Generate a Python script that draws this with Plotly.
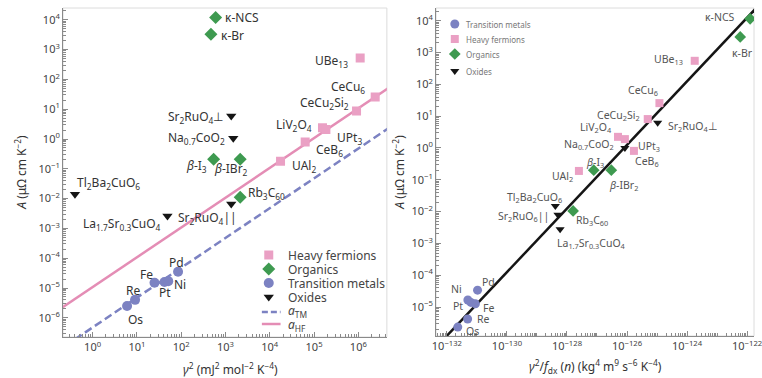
import math
import plotly.graph_objects as go

# ---------------- Left panel: A vs gamma^2 ----------------
hf_names = ["UBe<sub>13</sub>", "CeCu<sub>6</sub>", "CeCu<sub>2</sub>Si<sub>2</sub>",
            "LiV<sub>2</sub>O<sub>4</sub>", "UPt<sub>3</sub>", "CeB<sub>6</sub>", "UAl<sub>2</sub>"]
hf_g2 = [1.1e6, 2.4e6, 9.1e5, 1.55e5, 1.85e5, 6.3e4, 1.75e4]
hf_A = [525, 25.7, 8.7, 2.4, 2.1, 0.8, 0.18]

org_names = ["κ-NCS", "κ-Br", "<i>β</i>-I<sub>3</sub>", "<i>β</i>-IBr<sub>2</sub>", "Rb<sub>3</sub>C<sub>60</sub>"]
org_g2 = [600, 470, 540, 2150, 2150]
org_A = [1.2e4, 3300, 0.21, 0.21, 0.011]

tm_names = ["Os", "Re", "Fe", "Pt", "Ni", "Pd"]
tm_g2 = [6.0, 9.1, 25, 42, 51, 85]
tm_A = [2.5e-6, 4.0e-6, 1.5e-5, 1.6e-5, 1.7e-5, 3.5e-5]

ox_names = ["Sr<sub>2</sub>RuO<sub>4</sub>⊥", "Na<sub>0.7</sub>CoO<sub>2</sub>", "Tl<sub>2</sub>Ba<sub>2</sub>CuO<sub>6</sub>",
            "La<sub>1.7</sub>Sr<sub>0.3</sub>CuO<sub>4</sub>", "Sr<sub>2</sub>RuO<sub>4</sub>||"]
ox_g2 = [1350, 1500, 0.4, 49, 1350]
ox_A = [5.9, 1.07, 0.014, 0.0026, 0.0066]

# Kadowaki-Woods lines (endpoints)
atm_g2 = [0.4, 5e6]
atm_A = [1.9e-7, 2.4]
ahf_g2 = [0.2, 5e6]
ahf_A = [2.14e-6, 53.6]

left_xtick_vals = [1, 10, 1e2, 1e3, 1e4, 1e5, 1e6]
left_xtick_text = ["10<sup>0</sup>", "10<sup>1</sup>", "10<sup>2</sup>", "10<sup>3</sup>",
                   "10<sup>4</sup>", "10<sup>5</sup>", "10<sup>6</sup>"]
left_ytick_vals = [1e-6, 1e-5, 1e-4, 1e-3, 1e-2, 1e-1, 1, 10, 1e2, 1e3, 1e4]
left_ytick_text = ["10<sup>−6</sup>", "10<sup>−5</sup>", "10<sup>−4</sup>", "10<sup>−3</sup>", "10<sup>−2</sup>",
                   "10<sup>−1</sup>", "10<sup>0</sup>", "10<sup>1</sup>", "10<sup>2</sup>", "10<sup>3</sup>", "10<sup>4</sup>"]

# ---------------- Right panel: A vs gamma^2 / f_dx(n) ----------------
r_tm_x = [2.3e-132, 4.9e-132, 8.9e-132, 6.3e-132, 5.0e-132, 1.05e-131]
r_tm_A = [2.35e-6, 4.2e-6, 1.26e-5, 1.4e-5, 1.66e-5, 3.4e-5]

r_hf_x = [1.8e-124, 1.2e-125, 4.9e-126, 5.0e-127, 8.5e-127, 1.7e-126, 2.5e-128]
r_hf_A = [550, 25.7, 8.1, 2.24, 1.9, 0.81, 0.19]

r_org_x = [1.26e-122, 5.9e-123, 7.8e-128, 3.0e-127, 1.6e-128]
r_org_A = [1.15e4, 3100, 0.2, 0.2, 0.0105]

r_ox_names = ["Sr<sub>2</sub>RuO<sub>4</sub>⊥", "Na<sub>0.7</sub>CoO<sub>2</sub>", "Tl<sub>2</sub>Ba<sub>2</sub>CuO<sub>6</sub>",
              "La<sub>1.7</sub>Sr<sub>0.3</sub>CuO<sub>4</sub>", "Sr<sub>2</sub>RuO<sub>6</sub>||"]
r_ox_x = [1.05e-125, 8.5e-127, 4.1e-129, 5.9e-129, 5.0e-129]
r_ox_A = [6.2, 1.0, 0.015, 0.0028, 0.0079]

r_line_x = [8e-133, 2e-122]
r_line_A = [1.0e-6, 2.5e4]

right_xtick_vals = [1e-132, 1e-130, 1e-128, 1e-126, 1e-124, 1e-122]
right_xtick_text = ["10<sup>−132</sup>", "10<sup>−130</sup>", "10<sup>−128</sup>",
                    "10<sup>−126</sup>", "10<sup>−124</sup>", "10<sup>−122</sup>"]
right_ytick_vals = [1e-5, 1e-4, 1e-3, 1e-2, 1e-1, 1, 10, 1e2, 1e3, 1e4]
right_ytick_text = ["10<sup>−5</sup>", "10<sup>−4</sup>", "10<sup>−3</sup>", "10<sup>−2</sup>", "10<sup>−1</sup>",
                    "10<sup>0</sup>", "10<sup>1</sup>", "10<sup>2</sup>", "10<sup>3</sup>", "10<sup>4</sup>"]

left_legend_names = ["Heavy fermions", "Organics", "Transition metals", "Oxides",
                     "<i>a</i><sub>TM</sub>", "<i>a</i><sub>HF</sub>"]
right_legend_names = ["Transition metals", "Heavy fermions", "Organics", "Oxides"]

# ---------------- Styles ----------------
FONT = "Noto Sans"
PINK = "#eaa0c4"
PINK_LINE = "#e48db5"
GREEN = "#3e9a50"
BLUE = "#7c82c2"
BLACK = "#151515"
AX = "#8a8a8a"
W, H = 762, 378

SQ = dict(symbol="square", color=PINK)
DI = dict(symbol="diamond", color=GREEN)
CI = dict(symbol="circle", color=BLUE)
TR = dict(symbol="triangle-down", color=BLACK)

# legend layout (pixels from top-left of the figure)
LEG_L = dict(xs=269, xt=287, rows=[255, 269, 283, 297, 311, 325], line=(262, 281),
             styles=[dict(SQ, size=9), dict(DI, size=10), dict(CI, size=10), dict(TR, size=9)],
             font=dict(family=FONT, size=12, color="#444"))
LEG_R = dict(xs=458, xt=467, rows=[24, 39, 54, 71],
             styles=[dict(CI, size=9), dict(SQ, size=8), dict(DI, size=9), dict(TR, size=8)],
             font=dict(family=FONT, size=8, color="#777"))

# label offsets: (xanchor, xshift, yshift) in pixels
left_label_off = {
    "UBe<sub>13</sub>": ("right", -10, -3), "CeCu<sub>6</sub>": ("center", -27, 10),
    "CeCu<sub>2</sub>Si<sub>2</sub>": ("right", -6, 8), "LiV<sub>2</sub>O<sub>4</sub>": ("right", -8, 3),
    "UPt<sub>3</sub>": ("left", 9, -9), "CeB<sub>6</sub>": ("left", 9, -8), "UAl<sub>2</sub>": ("left", 9, -5),
    "κ-NCS": ("left", 7, 0), "κ-Br": ("left", 8, -1), "<i>β</i>-I<sub>3</sub>": ("right", -5, -7),
    "<i>β</i>-IBr<sub>2</sub>": ("center", -9, -10), "Rb<sub>3</sub>C<sub>60</sub>": ("left", 6, 4),
    "Os": ("center", 8, -14), "Re": ("center", -2, 9), "Fe": ("center", -8, 8),
    "Pt": ("center", 1, -11), "Ni": ("left", 4, -3), "Pd": ("center", -2, 9),
    "Sr<sub>2</sub>RuO<sub>4</sub>⊥": ("right", -6, -1), "Na<sub>0.7</sub>CoO<sub>2</sub>": ("right", -6, 0),
    "Tl<sub>2</sub>Ba<sub>2</sub>CuO<sub>6</sub>": ("left", 0, 11),
    "La<sub>1.7</sub>Sr<sub>0.3</sub>CuO<sub>4</sub>": ("right", -4, -8),
    "Sr<sub>2</sub>RuO<sub>4</sub>||": ("center", -24, -14),
}
right_label_off = {
    "UBe<sub>13</sub>": ("right", -10, 1), "CeCu<sub>6</sub>": ("center", -16, 13),
    "CeCu<sub>2</sub>Si<sub>2</sub>": ("right", -6, 4), "LiV<sub>2</sub>O<sub>4</sub>": ("right", -4, 9),
    "UPt<sub>3</sub>": ("left", 11, -7), "CeB<sub>6</sub>": ("left", -1, -11), "UAl<sub>2</sub>": ("right", -4, -6),
    "κ-NCS": ("right", -13, 2), "κ-Br": ("center", 2, -16), "<i>β</i>-I<sub>3</sub>": ("center", 1, 8),
    "<i>β</i>-IBr<sub>2</sub>": ("left", -4, -15), "Rb<sub>3</sub>C<sub>60</sub>": ("left", 1, -10),
    "Os": ("left", 6, -4), "Re": ("left", 7, 0), "Fe": ("left", 6, -4),
    "Pt": ("right", -6, -4), "Ni": ("right", -4, 11), "Pd": ("left", 2, 8),
    "Sr<sub>2</sub>RuO<sub>4</sub>⊥": ("left", 8, -4), "Na<sub>0.7</sub>CoO<sub>2</sub>": ("right", -9, 3),
    "Tl<sub>2</sub>Ba<sub>2</sub>CuO<sub>6</sub>": ("right", 9, 9),
    "La<sub>1.7</sub>Sr<sub>0.3</sub>CuO<sub>4</sub>": ("left", -5, -14),
    "Sr<sub>2</sub>RuO<sub>6</sub>||": ("right", -7, -2),
}

fig = go.Figure()

# left panel lines
fig.add_trace(go.Scatter(x=atm_g2, y=atm_A, mode="lines", name="a_TM",
                         line=dict(color=BLUE, width=2.5, dash="8px,4px"), xaxis="x", yaxis="y"))
fig.add_trace(go.Scatter(x=ahf_g2, y=ahf_A, mode="lines", name="a_HF",
                         line=dict(color=PINK_LINE, width=2.5), xaxis="x", yaxis="y"))
# left panel markers
fig.add_trace(go.Scatter(x=hf_g2, y=hf_A, mode="markers", name="Heavy fermions",
                         marker=LEG_L["styles"][0], xaxis="x", yaxis="y"))
fig.add_trace(go.Scatter(x=org_g2, y=org_A, mode="markers", name="Organics",
                         marker=LEG_L["styles"][1], xaxis="x", yaxis="y"))
fig.add_trace(go.Scatter(x=tm_g2, y=tm_A, mode="markers", name="Transition metals",
                         marker=LEG_L["styles"][2], xaxis="x", yaxis="y"))
fig.add_trace(go.Scatter(x=ox_g2, y=ox_A, mode="markers", name="Oxides",
                         marker=LEG_L["styles"][3], xaxis="x", yaxis="y"))

# right panel
fig.add_trace(go.Scatter(x=r_line_x, y=r_line_A, mode="lines", name="fit",
                         line=dict(color=BLACK, width=2.5), xaxis="x2", yaxis="y2"))
fig.add_trace(go.Scatter(x=r_tm_x, y=r_tm_A, mode="markers", name="Transition metals",
                         marker=LEG_R["styles"][0], xaxis="x2", yaxis="y2"))
fig.add_trace(go.Scatter(x=r_hf_x, y=r_hf_A, mode="markers", name="Heavy fermions",
                         marker=LEG_R["styles"][1], xaxis="x2", yaxis="y2"))
fig.add_trace(go.Scatter(x=r_org_x, y=r_org_A, mode="markers", name="Organics",
                         marker=LEG_R["styles"][2], xaxis="x2", yaxis="y2"))
fig.add_trace(go.Scatter(x=r_ox_x, y=r_ox_A, mode="markers", name="Oxides",
                         marker=LEG_R["styles"][3], xaxis="x2", yaxis="y2"))

annotations = []

# ---- custom legends drawn on a pixel-space overlay axis ----
for leg, names in ((LEG_L, left_legend_names), (LEG_R, right_legend_names)):
    for i, st in enumerate(leg["styles"]):
        fig.add_trace(go.Scatter(x=[leg["xs"]], y=[leg["rows"][i]], mode="markers", marker=st,
                                 xaxis="x3", yaxis="y3", cliponaxis=False, hoverinfo="skip"))
    for i, n in enumerate(names):
        annotations.append(dict(x=leg["xt"], y=leg["rows"][i], xref="x3", yref="y3", text=n,
                                showarrow=False, xanchor="left", yanchor="middle", font=leg["font"]))
x0, x1 = LEG_L["line"]
fig.add_trace(go.Scatter(x=[x0, x1], y=[LEG_L["rows"][4] + 1] * 2, mode="lines", xaxis="x3", yaxis="y3",
                         line=dict(color=BLUE, width=2.5, dash="6px,3px"), hoverinfo="skip"))
fig.add_trace(go.Scatter(x=[x0, x1], y=[LEG_L["rows"][5] - 1] * 2, mode="lines", xaxis="x3", yaxis="y3",
                         line=dict(color=PINK_LINE, width=2.5), hoverinfo="skip"))


def add_labels(names, xs, ys, offs, xref, yref, size, color):
    for n, xv, yv in zip(names, xs, ys):
        anchor, dx, dy = offs[n]
        annotations.append(dict(x=math.log10(xv), y=math.log10(yv), xref=xref, yref=yref,
                                text=n, showarrow=False, xanchor=anchor, yanchor="middle",
                                xshift=dx, yshift=dy, font=dict(family=FONT, size=size, color=color)))


LC, LS = "#333333", 12
add_labels(hf_names, hf_g2, hf_A, left_label_off, "x", "y", LS, LC)
add_labels(org_names, org_g2, org_A, left_label_off, "x", "y", LS, LC)
add_labels(tm_names, tm_g2, tm_A, left_label_off, "x", "y", LS, LC)
add_labels(ox_names, ox_g2, ox_A, left_label_off, "x", "y", LS, LC)
RC, RS = "#555555", 10.5
add_labels(tm_names, r_tm_x, r_tm_A, right_label_off, "x2", "y2", RS, RC)
add_labels(hf_names, r_hf_x, r_hf_A, right_label_off, "x2", "y2", RS, RC)
add_labels(org_names, r_org_x, r_org_A, right_label_off, "x2", "y2", RS, RC)
add_labels(r_ox_names, r_ox_x, r_ox_A, right_label_off, "x2", "y2", RS, RC)

# axis titles
tf = dict(family=FONT, size=12, color="#333")
annotations += [
    dict(x=230, y=369, xref="x3", yref="y3", showarrow=False, yanchor="middle",
         text="<i>γ</i><sup>2</sup> (mJ<sup>2</sup> mol<sup>−2</sup> K<sup>−4</sup>)", font=tf),
    dict(x=601, y=366, xref="x3", yref="y3", showarrow=False, yanchor="middle",
         text="<i>γ</i><sup>2</sup>/<i>f</i><sub>dx</sub> (<i>n</i>) (kg<sup>4</sup> m<sup>9</sup> s<sup>−6</sup> K<sup>−4</sup>)",
         font=tf),
    dict(x=17, y=172, xref="x3", yref="y3", showarrow=False, textangle=-90,
         text="<i>A</i> (μΩ cm K<sup>−2</sup>)", font=tf),
    dict(x=401, y=172, xref="x3", yref="y3", showarrow=False, textangle=-90,
         text="<i>A</i> (μΩ cm K<sup>−2</sup>)", font=tf),
]

tickfont = dict(family=FONT, size=11, color="#444")


def axis(domain, rng, tv, tt):
    return dict(type="log", domain=domain, range=rng, tickmode="array", tickvals=tv, ticktext=tt,
                showline=True, linecolor=AX, linewidth=1, ticks="inside", ticklen=5, tickcolor=AX,
                minor=dict(ticks="inside", ticklen=3, tickcolor=AX, dtick="D1", showgrid=False),
                showgrid=False, zeroline=False, tickfont=tickfont, ticklabeloverflow="allow")


fig.update_layout(
    width=W, height=H, margin=dict(l=0, r=0, t=0, b=0), showlegend=False,
    paper_bgcolor="white", plot_bgcolor="rgba(0,0,0,0)",
    xaxis=dict(axis([60 / W, 389 / W], [-0.667, 6.644], left_xtick_vals, left_xtick_text), anchor="y"),
    yaxis=dict(axis([(H - 337) / H, (H - 8) / H], [-6.644, 4.396], left_ytick_vals, left_ytick_text), anchor="x"),
    xaxis2=dict(axis([439 / W, 1.0], [-132.36, -121.77], right_xtick_vals, right_xtick_text), anchor="y2"),
    yaxis2=dict(axis([(H - 336) / H, (H - 8) / H], [-5.91, 4.40], right_ytick_vals, right_ytick_text), anchor="x2"),
    xaxis3=dict(domain=[0, 1], range=[0, W], visible=False, anchor="y3", fixedrange=True),
    yaxis3=dict(domain=[0, 1], range=[H, 0], visible=False, anchor="x3", fixedrange=True),
    annotations=annotations,
    shapes=[
        dict(type="rect", xref="x domain", yref="y domain", x0=0, x1=1, y0=0, y1=1,
             line=dict(color="#dcdcdc", width=1), layer="below"),
        dict(type="rect", xref="x2 domain", yref="y2 domain", x0=0, x1=1, y0=0, y1=1,
             line=dict(color="#dcdcdc", width=1), layer="below"),
    ],
)

fig.write_html("out.html", config={"displayModeBar": False},
               post_script="document.body.style.margin='0px';")
